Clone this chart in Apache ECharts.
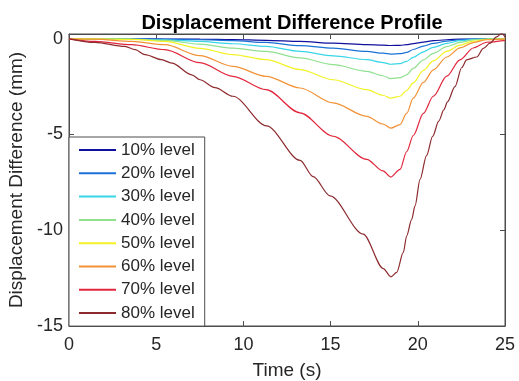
<!DOCTYPE html>
<html>
<head>
<meta charset="utf-8">
<script src="https://cdn.jsdelivr.net/npm/echarts@6/dist/echarts.min.js"></script>
<style>
  html, body { margin: 0; padding: 0; background: #fff; }
  #chart { width: 519px; height: 381px; }
</style>
</head>
<body>
<div id="chart"></div>
<script>
// time samples shared by the 10%..70% curves (s)
const timeS = [0, 1.5, 3.6, 5.5, 7.5, 9.4, 11.3, 13.25, 15.15, 17.07, 18.0, 18.45, 18.98, 19.36, 19.74, 20.32, 20.89, 21.66, 22.42, 23.18, 23.95, 25];

// displacement difference (mm)
const disp10 = [0, 0, 0, -0.01, -0.02, -0.04, -0.08, -0.14, -0.23, -0.3, -0.33, -0.35, -0.34, -0.31, -0.25, -0.17, -0.1, -0.05, -0.02, -0.01, 0, 0];
const disp20 = [0, 0, -0.01, -0.02, -0.05, -0.1, -0.19, -0.36, -0.49, -0.66, -0.75, -0.8, -0.78, -0.71, -0.56, -0.38, -0.24, -0.12, -0.05, -0.02, 0, 0];
const disp30 = [0, 0, -0.02, -0.06, -0.14, -0.26, -0.4, -0.66, -0.89, -1.09, -1.24, -1.33, -1.3, -1.18, -0.97, -0.68, -0.45, -0.24, -0.1, -0.03, -0.01, 0];
const disp40 = [0, 0, -0.02, -0.08, -0.28, -0.49, -0.66, -1.0, -1.35, -1.7, -1.93, -2.08, -2.03, -1.88, -1.55, -1.1, -0.76, -0.41, -0.19, -0.06, -0.01, 0];
const disp50 = [0, 0, -0.03, -0.14, -0.5, -0.83, -1.09, -1.61, -2.14, -2.66, -2.95, -3.1, -3.0, -2.7, -2.3, -1.65, -1.15, -0.66, -0.33, -0.12, -0.03, 0];
const disp60 = [0, -0.02, -0.14, -0.31, -0.88, -1.44, -1.96, -2.57, -3.35, -4.05, -4.45, -4.67, -4.48, -3.9, -3.1, -2.28, -1.62, -0.95, -0.47, -0.2, -0.05, 0];
const disp70 = [0, -0.14, -0.31, -0.57, -1.25, -1.96, -2.66, -3.87, -5.09, -6.3, -6.9, -7.22, -6.82, -5.9, -5.05, -3.9, -3.0, -1.95, -1.1, -0.48, -0.18, -0.08];

// the 80% curve has its own (denser) samples
const time80 = [0, 1.5, 3.2, 3.8, 4.36, 5.3, 5.9, 7.04, 7.51, 8.37, 9.4, 11.33, 13.25, 14.0, 14.97, 16.87, 18.02, 18.46, 18.79, 19.17, 19.36, 19.65, 19.84, 20.13, 20.5, 20.85, 21.2, 21.5, 21.7, 22.13, 22.52, 22.8, 23.38, 23.76, 24.14, 24.52, 24.81, 25];
const disp80 = [0, -0.19, -0.4, -0.57, -0.83, -1.09, -1.27, -1.88, -2.14, -2.55, -3.0, -4.55, -6.35, -7.2, -8.2, -10.2, -12.0, -12.43, -12.2, -11.16, -10.3, -9.43, -8.73, -7.34, -6.1, -5.1, -4.3, -3.7, -3.3, -2.5, -1.5, -1.1, -0.95, -0.5, -0.23, 0.1, 0.28, 0.1];

const levelNames = ["10% level", "20% level", "30% level", "40% level", "50% level", "60% level", "70% level", "80% level"];
const levelColors = ["#10109e", "#1a72d6", "#38d6e6", "#90e090", "#f2f226", "#f29236", "#e2263c", "#8c2a2e"];

const xTicks = { min: 0, max: 25, interval: 5 };
const yTicks = { min: -15, max: 0.25, interval: 5 };

const font = "'Liberation Sans', Arial, Helvetica, sans-serif";
const axisColor = "#4d4d4d";
const textColor = "#262626";

const zip = (xs, ys) => xs.map((x, i) => [x, ys[i]]);
const curves = [
  zip(timeS, disp10), zip(timeS, disp20), zip(timeS, disp30), zip(timeS, disp40),
  zip(timeS, disp50), zip(timeS, disp60), zip(timeS, disp70), zip(time80, disp80),
];

const chart = echarts.init(document.getElementById("chart"), null, { renderer: "canvas" });

// only label the multiples of 5 (hides the 0.25 top end)
const tickLabel = (v) => (Math.abs(v % 5) < 1e-9 ? String(v) : "");

const option = {
  animation: false,
  backgroundColor: "#fff",
  textStyle: { fontFamily: font },
  title: {
    text: "Displacement Difference Profile",
    left: 287,
    top: 8,
    textAlign: "center",
    textStyle: { fontFamily: font, fontSize: 20, fontWeight: "bold", color: "#000" },
  },
  grid: {
    left: 69, right: 14, top: 34, bottom: 55,
    outerBoundsMode: "none",
    show: true, borderColor: axisColor, borderWidth: 1, backgroundColor: "#fff",
  },
  legend: {
    orient: "vertical",
    left: 69,
    top: 137,
    data: levelNames,
    itemWidth: 37,
    itemHeight: 14,
    itemGap: 6.3,
    padding: [4.5, 10, 4.5, 9],
    borderColor: axisColor,
    borderWidth: 1,
    backgroundColor: "#fff",
    itemStyle: { opacity: 0 },
    textStyle: { fontFamily: font, fontSize: 17, color: textColor, lineHeight: 17 },
  },
  xAxis: [
    {
      type: "value", ...xTicks,
      name: "Time (s)", nameLocation: "middle", nameGap: 35,
      nameTextStyle: { fontFamily: font, fontSize: 19, color: textColor },
      axisLine: { onZero: false, lineStyle: { color: axisColor } },
      axisTick: { inside: true, length: 5, lineStyle: { color: axisColor } },
      axisLabel: { fontFamily: font, fontSize: 18, color: textColor, margin: 10 },
      splitLine: { show: false },
    },
    {
      type: "value", ...xTicks, position: "top",
      axisLine: { onZero: false, lineStyle: { color: axisColor } },
      axisTick: { inside: true, length: 5, lineStyle: { color: axisColor } },
      axisLabel: { show: false },
      splitLine: { show: false },
    },
  ],
  yAxis: [
    {
      type: "value", ...yTicks,
      name: "Displacement Difference (mm)", nameLocation: "middle", nameGap: 34,
      nameTextStyle: { fontFamily: font, fontSize: 19, color: textColor },
      axisLine: { show: true, onZero: false, lineStyle: { color: axisColor } },
      axisTick: { show: true, inside: true, length: 5, lineStyle: { color: axisColor } },
      axisLabel: { fontFamily: font, fontSize: 18, color: textColor, margin: 6, formatter: tickLabel, showMaxLabel: false },
      splitLine: { show: false },
    },
    {
      type: "value", ...yTicks, position: "right",
      axisLine: { show: true, onZero: false, lineStyle: { color: axisColor } },
      axisTick: { show: true, inside: true, length: 5, lineStyle: { color: axisColor } },
      axisLabel: { show: false },
      splitLine: { show: false },
    },
  ],
  series: curves.map((data, i) => ({
    name: levelNames[i],
    type: "line",
    data: data,
    symbol: "none",
    smooth: 0.3,
    smoothMonotone: "x",
    lineStyle: { color: levelColors[i], width: 1.2 },
    itemStyle: { color: levelColors[i] },
    z: 2,
  })),
};

chart.setOption(option);
</script>
</body>
</html>
